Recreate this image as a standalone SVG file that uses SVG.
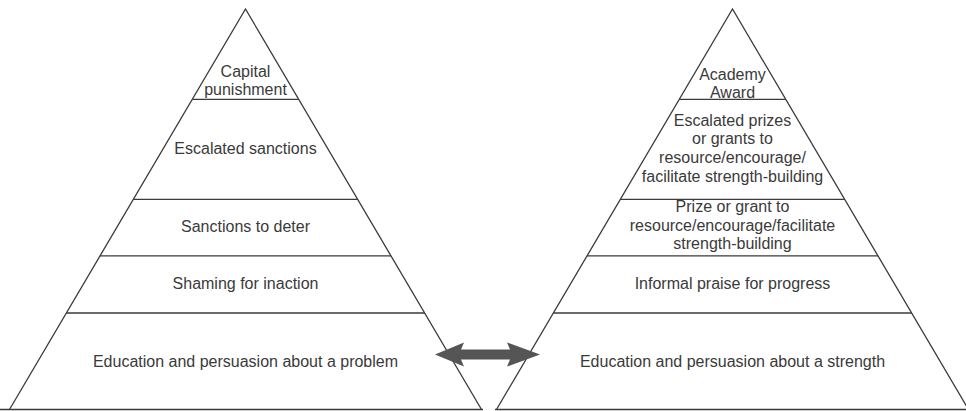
<svg xmlns="http://www.w3.org/2000/svg" width="966" height="411" viewBox="0 0 966 411">
<style>
.edge{fill:none;stroke:#3a3a3a;stroke-width:1.3;stroke-linejoin:miter}
.tier{stroke:#3a3a3a;stroke-width:1.3}
.lbl{font-family:"Liberation Sans",Arial,Helvetica,sans-serif;font-size:16px;fill:#3a3a3a;text-anchor:middle}
.arrow{fill:#555555;stroke:none}
</style>
<rect width="966" height="411" fill="#ffffff"/>
<g id="left-pyramid">
  <polyline class="edge" points="9.5,409.5 245.5,9 481.5,409.5"/>
  <line class="tier" x1="0" y1="409.5" x2="483" y2="409.5"/>
  <g id="capital-punishment">
    <line class="tier" x1="192.5" y1="99.3" x2="298.5" y2="99.3"/>
    <text class="lbl" x="245.5" y="77">Capital</text>
    <text class="lbl" x="245.5" y="95">punishment</text>
  </g>
  <g id="escalated-sanctions">
    <line class="tier" x1="133.5" y1="199.3" x2="357.5" y2="199.3"/>
    <text class="lbl" x="245.5" y="154">Escalated sanctions</text>
  </g>
  <g id="sanctions-to-deter">
    <line class="tier" x1="100" y1="255.8" x2="391" y2="255.8"/>
    <text class="lbl" x="245.5" y="232.3">Sanctions to deter</text>
  </g>
  <g id="shaming">
    <line class="tier" x1="66" y1="313" x2="425" y2="313"/>
    <text class="lbl" x="245.5" y="288.5">Shaming for inaction</text>
  </g>
  <g id="education-problem">
    <text class="lbl" x="245.5" y="367">Education and persuasion about a problem</text>
  </g>
</g>
<g id="right-pyramid">
  <polyline class="edge" points="496.5,409.5 732.5,9 968.5,409.5"/>
  <line class="tier" x1="495" y1="409.5" x2="966" y2="409.5"/>
  <g id="academy-award">
    <line class="tier" x1="679.5" y1="99.3" x2="785.5" y2="99.3"/>
    <text class="lbl" x="732.5" y="80">Academy</text>
    <text class="lbl" x="732.5" y="97.5">Award</text>
  </g>
  <g id="escalated-prizes">
    <line class="tier" x1="620.5" y1="199.3" x2="844.5" y2="199.3"/>
    <text class="lbl" x="732.5" y="126">Escalated prizes</text>
    <text class="lbl" x="732.5" y="144.2">or grants to</text>
    <text class="lbl" x="732.5" y="163">resource/encourage/</text>
    <text class="lbl" x="732.5" y="181.7">facilitate strength-building</text>
  </g>
  <g id="prize-or-grant">
    <line class="tier" x1="587" y1="255.8" x2="878" y2="255.8"/>
    <text class="lbl" x="732.5" y="212.3">Prize or grant to</text>
    <text class="lbl" x="732.5" y="230.8">resource/encourage/facilitate</text>
    <text class="lbl" x="732.5" y="249.3">strength-building</text>
  </g>
  <g id="informal-praise">
    <line class="tier" x1="553" y1="313" x2="912" y2="313"/>
    <text class="lbl" x="732.5" y="288.5">Informal praise for progress</text>
  </g>
  <g id="education-strength">
    <text class="lbl" x="732.5" y="367">Education and persuasion about a strength</text>
  </g>
</g>
<g id="connectors">
  <polygon class="arrow" points="435,354.5 464,342.5 461,349.5 510,349.5 507,342.5 540,354.5 507,366.5 510,359.5 461,359.5 464,366.5"/>
</g>
</svg>
